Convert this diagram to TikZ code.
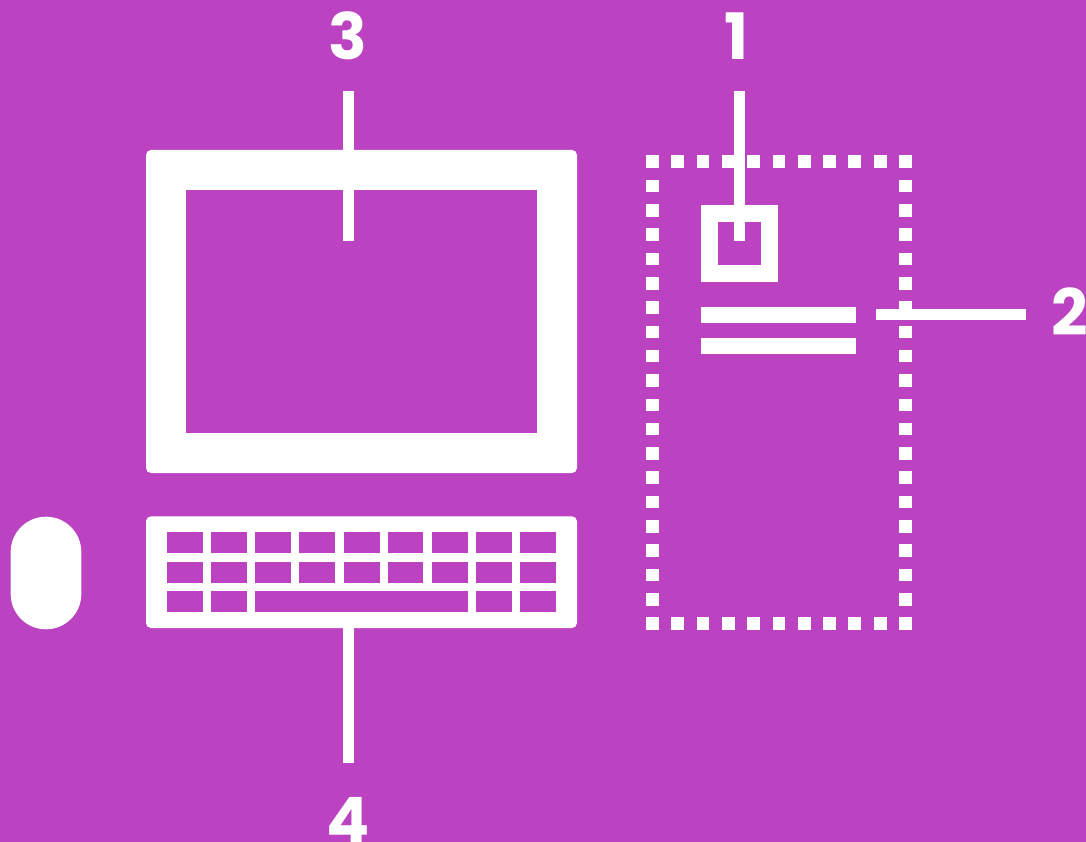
\documentclass[tikz,border=0pt]{standalone}
\usepackage{fontspec}
\setmainfont{Poppins}
\definecolor{bgpurple}{HTML}{BB42C1}
\tikzset{
  fillwhite/.style={fill=white,draw=none},
  leader/.style={draw=white,line width=10.8pt,line cap=butt},
  numlabel/.style={text=white,inner sep=0pt,font=\fontsize{64}{64}\selectfont\bfseries},
  dotbox/.style={fill=white,draw=none},
}
\begin{document}
\begin{tikzpicture}[x=1pt,y=-1pt]
\useasboundingbox (0,0) rectangle (1086,842);
\clip (0,0) rectangle (1086,842);
\fill[bgpurple] (0,0) rectangle (1086,842);
% monitor
\fill[fillwhite,rounded corners=5pt] (146,150) rectangle (577,473);
\fill[bgpurple] (186,190) rectangle (537,433);
% keyboard
\fill[fillwhite,rounded corners=5pt] (146,516.3) rectangle (577,628);
\foreach \kx/\kw in {167/35.7,211/36,255.3/35.7,299.3/35.7,343.7/36.3,387.7/35.6,432/35.7,476/35.7,520.3/35.7}{
  \fill[bgpurple] (\kx,532.3) rectangle ++(\kw,20.7);
  \fill[bgpurple] (\kx,561.7) rectangle ++(\kw,21);
}
\foreach \kx/\kw in {167/35.7,211/36,255.3/212.4,476/35.7,520.3/35.7}{
  \fill[bgpurple] (\kx,591) rectangle ++(\kw,21.3);
}
% mouse
\fill[fillwhite,rounded corners=35.3pt] (10.7,516.7) rectangle (81.3,629.3);
% dotted page
\foreach \i in {0,...,10}{
  \pgfmathsetmacro{\dx}{646+25.3*\i}
  \fill[dotbox] (\dx,155.3) rectangle ++(12.8,12.8);
  \fill[dotbox] (\dx,617) rectangle ++(12.8,12.8);
}
\foreach \i in {1,...,18}{
  \pgfmathsetmacro{\dy}{155.3+24.32*\i}
  \fill[dotbox] (646,\dy) rectangle ++(12.8,12.6);
  \fill[dotbox] (899,\dy) rectangle ++(12.8,12.6);
}
% logo square and text bars
\fill[fillwhite] (701.3,205.3) rectangle (778,282);
\fill[bgpurple] (718,222) rectangle (761.3,265);
\fill[fillwhite] (701,307) rectangle (856,323);
\fill[fillwhite] (701,338) rectangle (856,353.7);
% labels
\node[numlabel,anchor=base] (n1) at (737,60) {1};
\node[numlabel,anchor=base west] (n2) at (1051.5,335) {2};
\node[numlabel,anchor=base] (n3) at (348,60) {3};
\node[numlabel,anchor=base] (n4) at (348,843) {4};
% leaders
\coordinate (a1) at (739.2,91);  \coordinate (b1) at (739.2,241);
\coordinate (a2) at (1026,314.3); \coordinate (b2) at (876,314.3);
\coordinate (a3) at (348.1,91);  \coordinate (b3) at (348.1,241);
\coordinate (a4) at (348.1,762.7); \coordinate (b4) at (348.1,628);
\draw[leader] (a1) -- (b1);
\draw[leader] (a2) -- (b2);
\draw[leader] (a3) -- (b3);
\draw[leader] (a4) -- (b4);
\end{tikzpicture}
\end{document}
